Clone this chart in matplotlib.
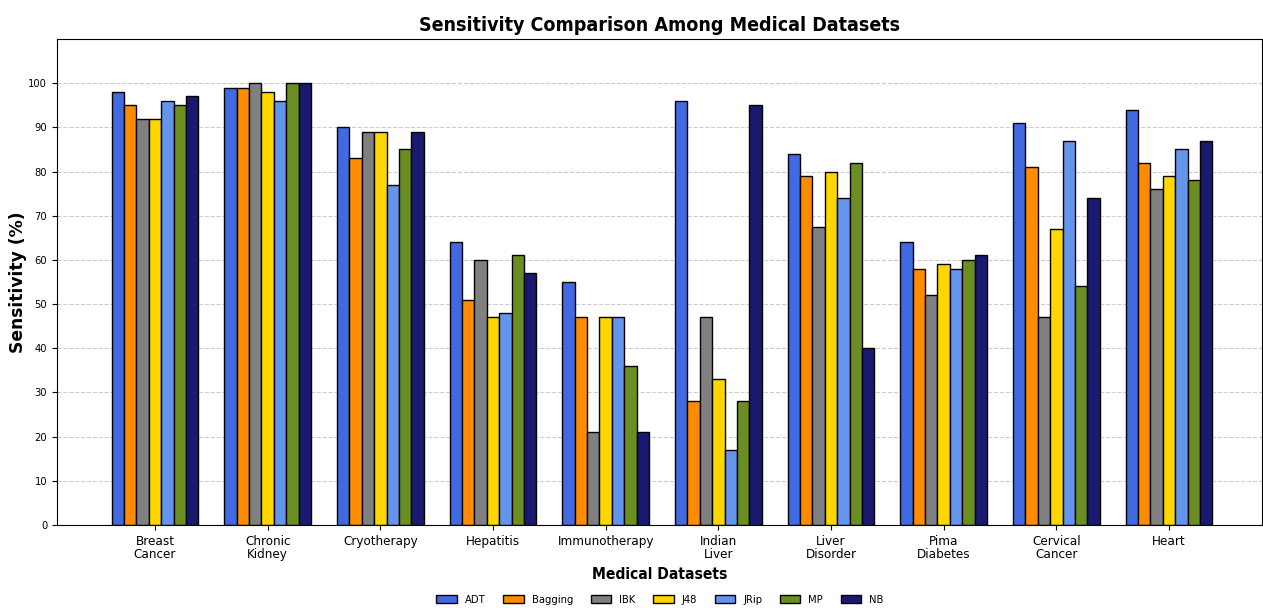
import numpy as np
import matplotlib
matplotlib.use("Agg")
import matplotlib.pyplot as plt

# datos
datasets = ["Breast\nCancer", "Chronic\nKidney", "Cryotherapy", "Hepatitis",
            "Immunotherapy", "Indian\nLiver", "Liver\nDisorder", "Pima\nDiabetes",
            "Cervical\nCancer", "Heart"]
classifiers = ["ADT", "Bagging", "IBK", "J48", "JRip", "MP", "NB"]

adt = [98, 99, 90, 64, 55, 96, 84, 64, 91, 94]
bagging = [95, 99, 83, 51, 47, 28, 79, 58, 81, 82]
ibk = [92, 100, 89, 60, 21, 47, 67.5, 52, 47, 76]
j48 = [92, 98, 89, 47, 47, 33, 80, 59, 67, 79]
jrip = [96, 96, 77, 48, 47, 17, 74, 58, 87, 85]
mp = [95, 100, 85, 61, 36, 28, 82, 60, 54, 78]
nb = [97, 100, 89, 57, 21, 95, 40, 61, 74, 87]

colors = ["royalblue", "darkorange", "gray", "gold", "cornflowerblue",
          "olivedrab", "midnightblue"]


def main():
    series = [adt, bagging, ibk, j48, jrip, mp, nb]
    x = np.arange(len(datasets))
    width = 0.11

    plt.rcParams["font.family"] = "DejaVu Sans"
    plt.rcParams["font.stretch"] = "condensed"

    fig = plt.figure(figsize=(12.63, 6.08), dpi=100)
    ax = fig.add_axes([0.0451, 0.1365, 0.9545, 0.7994])

    for i, (name, vals) in enumerate(zip(classifiers, series)):
        offset = (i - 3) * width
        ax.bar(x + offset, vals, width, label=name, color=colors[i],
               edgecolor="black", linewidth=1.0)

    ax.set_xlim(-0.87, 9.83)
    ax.set_ylim(0, 110)
    ax.set_yticks(np.arange(0, 101, 10))
    ax.set_xticks(x)
    ax.set_xticklabels(datasets, fontsize=9.6, linespacing=1.05)
    ax.tick_params(axis="y", labelsize=8)

    ax.set_axisbelow(True)
    ax.yaxis.grid(True, linestyle="--", color="#cccccc", linewidth=0.8)

    ax.set_title("Sensitivity Comparison Among Medical Datasets",
                 fontsize=14, fontweight="bold")
    ax.set_xlabel("Medical Datasets", fontsize=11.2, fontweight="bold")
    ax.set_ylabel("Sensitivity (%)", fontsize=12.3, fontweight="bold",
                  fontstretch="normal", labelpad=1)

    fig.legend(loc="center", bbox_to_anchor=(0.5225, 0.013), ncol=7,
               frameon=False, prop={"size": 8},
               handlelength=1.85, handleheight=0.65, handletextpad=0.7,
               columnspacing=1.6)

    fig.savefig("out.png", dpi=100)


if __name__ == "__main__":
    main()
